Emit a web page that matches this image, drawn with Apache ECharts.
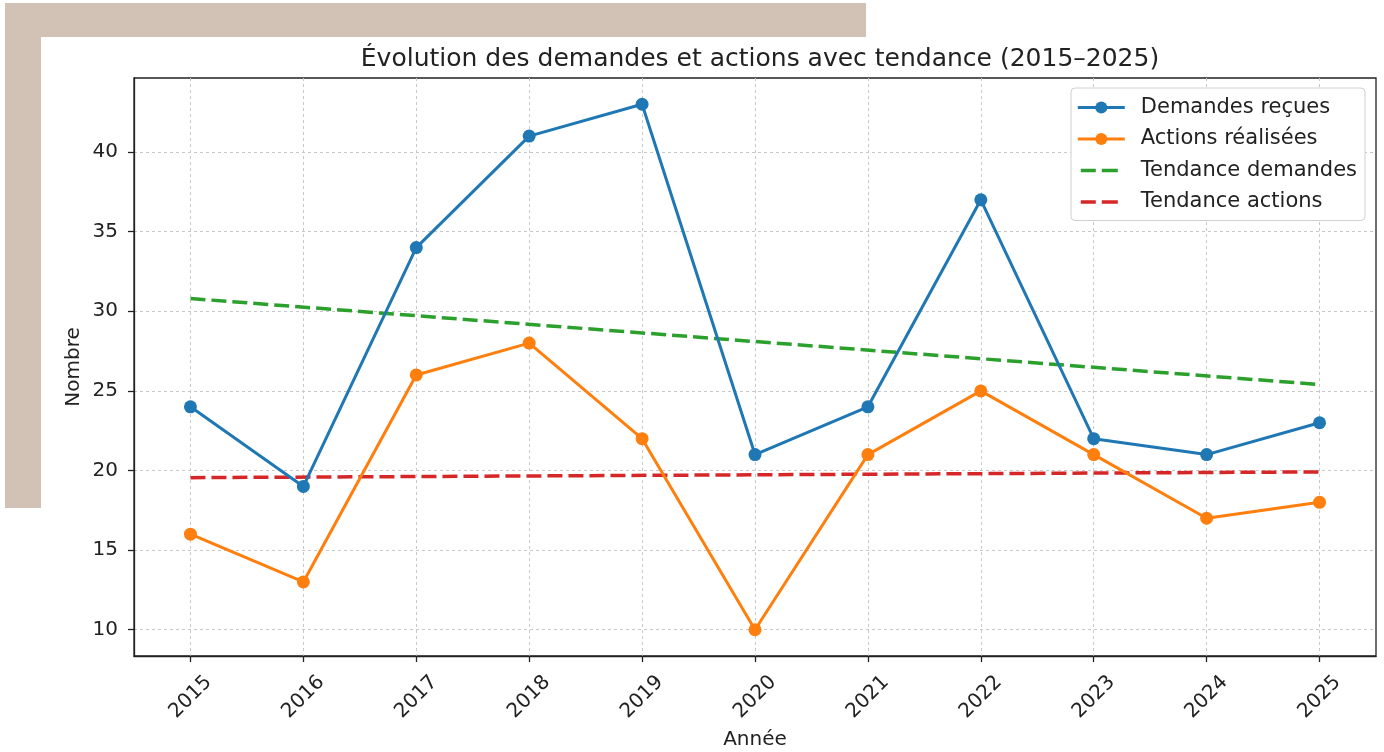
<!DOCTYPE html>
<html>
<head>
<meta charset="utf-8">
<script src="https://cdn.jsdelivr.net/npm/echarts@6/dist/echarts.min.js"></script>
<style>
  html, body { margin: 0; padding: 0; background: #fff; }
  #chart { width: 1384px; height: 752px; }
</style>
</head>
<body>
<div id="chart"></div>
<script>
// data
const years = [2015, 2016, 2017, 2018, 2019, 2020, 2021, 2022, 2023, 2024, 2025]
const demandes = [24, 19, 34, 41, 43, 21, 24, 37, 22, 21, 23]
const actions = [16, 13, 26, 28, 22, 10, 21, 25, 21, 17, 18]
// trend lines, start and end value (2015 / 2025)
const trendYears = [2015, 2025]
const trendDemandes = [30.8, 25.4]
const trendActions = [19.55, 19.91]
const yTicks = [10, 15, 20, 25, 30, 35, 40]

const font = 'DejaVu Sans'
const pair = (xs, ys) => xs.map((x, i) => [x, ys[i]])

const chart = echarts.init(document.getElementById('chart'))
const gridLine = { show: true, lineStyle: { color: '#c8c8c8', width: 1, type: [3, 3] } }
// two dashes centred in the legend handle
const legendDash = { width: 3.5, type: [15, 6, 16, 10], dashOffset: 44 }

chart.setOption({
  backgroundColor: '#fff',
  animation: false,
  textStyle: { fontFamily: font, color: '#222' },
  graphic: [
    { type: 'rect', z: -10, shape: { x: 5, y: 3, width: 861, height: 34 }, style: { fill: '#d2c2b6' } },
    { type: 'rect', z: -10, shape: { x: 5, y: 3, width: 36, height: 505 }, style: { fill: '#d2c2b6' } }
  ],
  title: {
    text: 'Évolution des demandes et actions avec tendance (2015–2025)',
    left: 755,
    textAlign: 'center',
    top: 42,
    textStyle: { fontFamily: font, fontSize: 25, fontWeight: 'normal', color: '#222' }
  },
  grid: {
    left: 134, right: 8, top: 78, bottom: 96,
    outerBoundsMode: 'none',
    containLabel: false,
    show: true, borderColor: '#222', borderWidth: 1.3, backgroundColor: 'transparent'
  },
  legend: {
    orient: 'vertical',
    right: 19,
    top: 88,
    padding: [9, 8, 8, 5],
    itemGap: 10.5,
    itemWidth: 47,
    itemHeight: 15,
    backgroundColor: '#fff',
    borderColor: '#d0d0d0',
    borderWidth: 1,
    borderRadius: 4,
    textStyle: { fontFamily: font, fontSize: 21, color: '#222', padding: [0, 0, 0, 11] },
    data: [
      { name: 'Demandes reçues', lineStyle: { width: 3 } },
      { name: 'Actions réalisées', lineStyle: { width: 3 } },
      { name: 'Tendance demandes', itemStyle: { opacity: 0 }, lineStyle: legendDash },
      { name: 'Tendance actions', itemStyle: { opacity: 0 }, lineStyle: legendDash }
    ]
  },
  xAxis: {
    type: 'value',
    min: 2014.5,
    max: 2025.5,
    name: 'Année',
    nameLocation: 'middle',
    nameGap: 74,
    nameMoveOverlap: false,
    nameTextStyle: { fontFamily: font, fontSize: 20, color: '#222' },
    axisLine: { show: true, lineStyle: { color: '#222', width: 1.3 } },
    axisTick: { show: true, inside: false, length: 6, customValues: years, lineStyle: { color: '#222', width: 1.3 } },
    axisLabel: {
      customValues: years,
      formatter: v => String(v),
      rotate: 45,
      align: 'center',
      verticalAlign: 'middle',
      margin: 41,
      fontFamily: font,
      fontSize: 20,
      color: '#222'
    },
    splitLine: gridLine
  },
  yAxis: {
    type: 'value',
    min: 8.35,
    max: 44.65,
    name: 'Nombre',
    nameLocation: 'middle',
    nameGap: 50,
    nameMoveOverlap: false,
    nameTextStyle: { fontFamily: font, fontSize: 20, color: '#222' },
    axisLine: { show: true, lineStyle: { color: '#222', width: 1.3 } },
    axisTick: { show: true, length: 6, customValues: yTicks, lineStyle: { color: '#222', width: 1.3 } },
    axisLabel: { customValues: yTicks, margin: 16, fontFamily: font, fontSize: 20, color: '#222' },
    splitLine: gridLine
  },
  series: [
    {
      name: 'Demandes reçues',
      type: 'line',
      data: pair(years, demandes),
      color: '#1f77b4',
      symbol: 'circle',
      symbolSize: 13,
      lineStyle: { width: 3 },
      z: 4
    },
    {
      name: 'Actions réalisées',
      type: 'line',
      data: pair(years, actions),
      color: '#ff7f0e',
      symbol: 'circle',
      symbolSize: 13,
      lineStyle: { width: 3 },
      z: 4
    },
    {
      name: 'Tendance demandes',
      type: 'line',
      data: pair(trendYears, trendDemandes),
      color: '#2ca02c',
      symbol: 'none',
      lineStyle: { width: 3.5, type: [15, 6] },
      z: 3
    },
    {
      name: 'Tendance actions',
      type: 'line',
      data: pair(trendYears, trendActions),
      color: '#d62728',
      symbol: 'none',
      lineStyle: { width: 3.5, type: [15, 6] },
      z: 3
    }
  ]
})
</script>
</body>
</html>
